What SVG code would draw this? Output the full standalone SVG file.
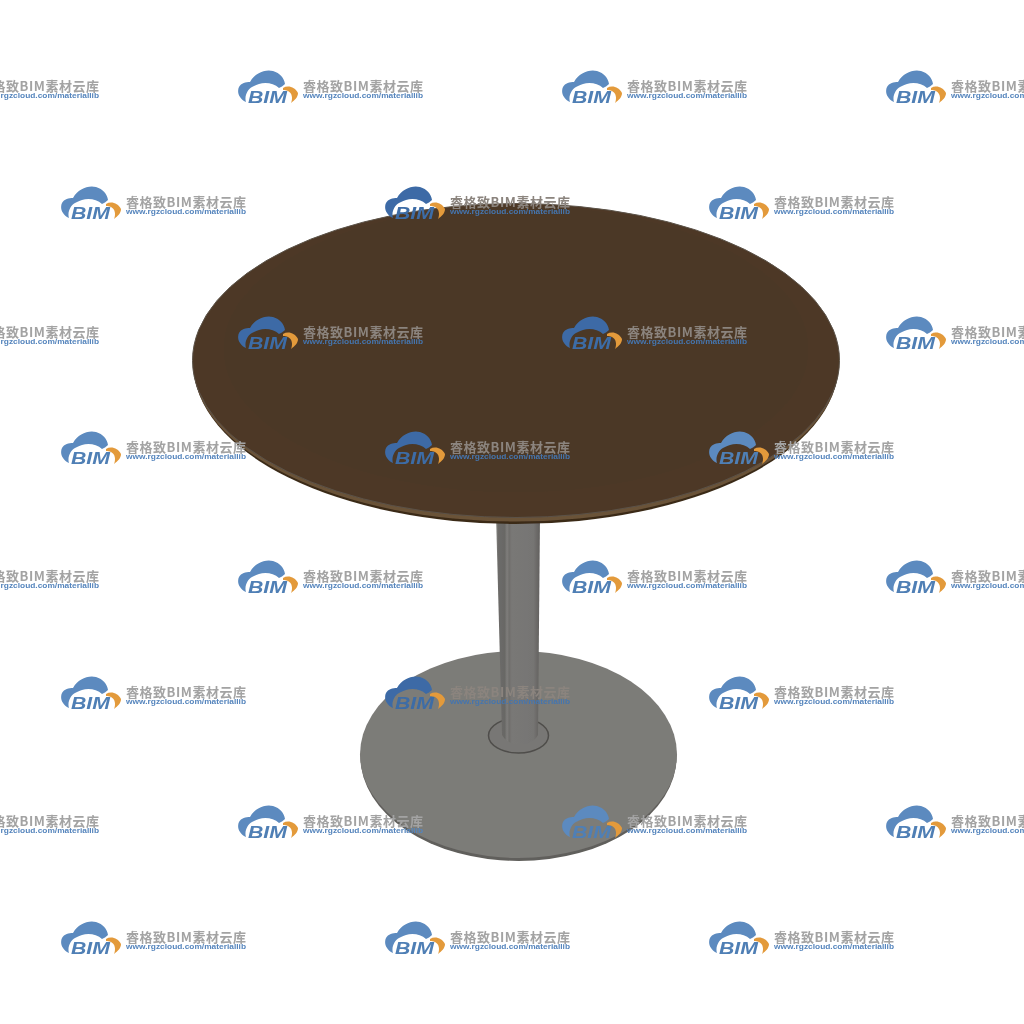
<svg xmlns="http://www.w3.org/2000/svg" width="1024" height="1024" viewBox="0 0 1024 1024">
<defs>
<linearGradient id="poleFill" x1="0" x2="1" y1="0" y2="0"><stop offset="0" stop-color="#8a8986"/><stop offset=".05" stop-color="#6d6c69"/><stop offset=".2" stop-color="#686765"/><stop offset=".25" stop-color="#7f7e7c"/><stop offset=".3" stop-color="#6f6e6c"/><stop offset=".36" stop-color="#797876"/><stop offset=".85" stop-color="#767573"/><stop offset="1" stop-color="#615f5d"/></linearGradient>
<filter id="soft" x="-5%" y="-5%" width="110%" height="110%"><feGaussianBlur stdDeviation=".7"/></filter>
<filter id="softer" x="-5%" y="-5%" width="110%" height="110%"><feGaussianBlur stdDeviation=".3"/></filter>
<g id="wm">
<path class="cloud" d="M8 32C0 28-1 21 1 17C3 13 8 12 12 12C17 3 27-1 35 1C42 3 46 8 47 14C45 16 43 17 41 18C36 13 27 12 21 14C18 15 16 16 14 17C10 19 6 26 8 32Z"/>
<path class="arc" d="M45 18C50 15 57 17 60 23C60 27 57 30 53 33C55 28 54 23 50 21C48 20 47 20 45 20Z"/>
<text class="bim" x="10" y="33" textLength="39" lengthAdjust="spacingAndGlyphs">BIM</text>
<text class="cn" x="65" y="21" textLength="120" lengthAdjust="spacing">睿格致BIM素材云库</text>
<text class="url" x="65" y="27.500" textLength="120" lengthAdjust="spacingAndGlyphs">www.rgzcloud.com/materiallib</text>
</g>
<style>
use{--blue:#5b8abf;--blue2:#4f7fb5;--gray:#a3a3a3;--link:#5585bd}
use.on{--blue:#3c6ba6;--blue2:#3c6ca6;--gray:#8b847e;--link:#4575ae}
.cloud{fill:var(--blue)}.arc{fill:#e39a3b}
.bim{font:italic bold 17px "Liberation Sans",sans-serif;fill:var(--blue2)}
.cn{font:bold 13px "Noto Sans CJK SC","Liberation Sans",sans-serif;fill:var(--gray)}
.url{font:bold 7.6px "Liberation Sans",sans-serif;fill:var(--link)}
</style>
</defs>
<rect width="1024" height="1024" fill="#fff"/>
<g id="table" filter="url(#soft)">
<g id="base">
<ellipse cx="518.500" cy="757" rx="158" ry="104" fill="#605f5b"/>
<ellipse cx="518.500" cy="754.500" rx="158.500" ry="103.500" fill="#7c7b78"/>
<ellipse cx="518.500" cy="735.500" rx="30" ry="17.500" fill="#787774" stroke="#4f4e4b" stroke-width="1.500"/>
</g>
<path id="pole" d="M496 515H540L538 735C531 748 509 748 502 735Z" fill="url(#poleFill)"/>
<g id="top">
<ellipse cx="516" cy="364.500" rx="322.500" ry="159.500" fill="#3a2a18"/>
<ellipse cx="516" cy="363" rx="323" ry="158.500" fill="#6a5238"/>
<ellipse cx="516" cy="360.500" rx="323.500" ry="157" fill="#4d3927" stroke="#5b5248" stroke-width="1"/>
<ellipse cx="516" cy="349" rx="292" ry="143" fill="#4c3826"/>
</g>
</g>
<g id="watermarks" filter="url(#softer)">
<use href="#wm" x="-86" y="70"/><use href="#wm" x="238" y="70"/><use href="#wm" x="562" y="70"/><use href="#wm" x="886" y="70"/>
<use href="#wm" x="61" y="186"/><use href="#wm" x="385" y="186" class="on"/><use href="#wm" x="709" y="186"/>
<use href="#wm" x="-86" y="316"/><use href="#wm" x="238" y="316" class="on"/><use href="#wm" x="562" y="316" class="on"/><use href="#wm" x="886" y="316"/>
<use href="#wm" x="61" y="431"/><use href="#wm" x="385" y="431" class="on"/><use href="#wm" x="709" y="431"/>
<use href="#wm" x="-86" y="560"/><use href="#wm" x="238" y="560"/><use href="#wm" x="562" y="560"/><use href="#wm" x="886" y="560"/>
<use href="#wm" x="61" y="676"/><use href="#wm" x="385" y="676" class="on"/><use href="#wm" x="709" y="676"/>
<use href="#wm" x="-86" y="805"/><use href="#wm" x="238" y="805"/><use href="#wm" x="562" y="805"/><use href="#wm" x="886" y="805"/>
<use href="#wm" x="61" y="921"/><use href="#wm" x="385" y="921"/><use href="#wm" x="709" y="921"/>
</g>
</svg>
